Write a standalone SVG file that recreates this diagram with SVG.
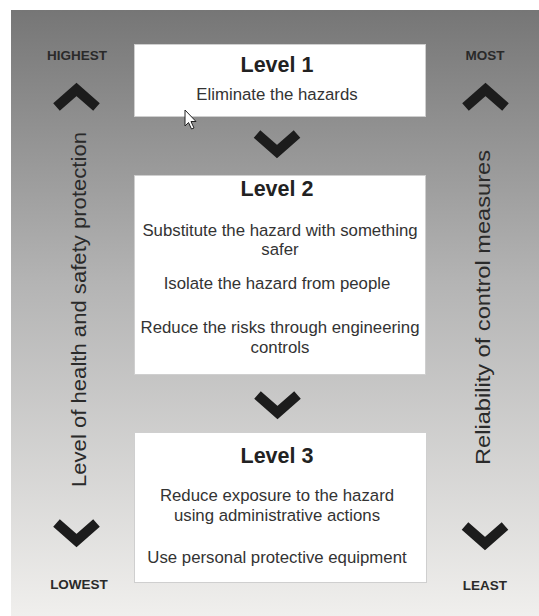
<svg xmlns="http://www.w3.org/2000/svg" width="539" height="616" viewBox="0 0 539 616">
  <defs>
    <linearGradient id="bg" x1="0" y1="0" x2="0" y2="1">
      <stop offset="0" stop-color="#767676"/>
      <stop offset="0.45" stop-color="#b4b4b4"/>
      <stop offset="1" stop-color="#f0efed"/>
    </linearGradient>
    <path id="chev" d="M -20 -9 L 0 8.5 L 20 -9"/>
  </defs>
  <style>
    .box { fill: #ffffff; stroke: #cfcfcf; stroke-width: 1; }
    .title { font-family: "Liberation Sans", Arial, sans-serif; font-weight: bold; font-size: 21.5px; fill: #222; text-anchor: middle; }
    .body { font-family: "Liberation Sans", Arial, sans-serif; font-size: 16.8px; fill: #333; text-anchor: middle; }
    .tag { font-family: "Liberation Sans", Arial, sans-serif; font-weight: bold; font-size: 13.5px; fill: #2a2a2a; text-anchor: middle; }
    .side { font-family: "Liberation Sans", Arial, sans-serif; font-size: 20.5px; fill: #2a2a2a; text-anchor: middle; }
    .chev { fill: none; stroke: #1c1c1c; stroke-width: 10; stroke-linejoin: miter; stroke-miterlimit: 10; }
  </style>

  <rect x="0" y="0" width="539" height="616" fill="#ffffff"/>
  <rect x="11" y="10" width="528" height="606" fill="url(#bg)"/>

  <g id="level1">
    <rect class="box" x="134.5" y="44.5" width="291" height="72"/>
    <text class="title" x="277" y="72">Level 1</text>
    <text class="body" x="277" y="100">Eliminate the hazards</text>
  </g>

  <g id="level2">
    <rect class="box" x="134.5" y="175.5" width="291" height="199"/>
    <text class="title" x="277" y="196">Level 2</text>
    <text class="body" x="280" y="236">Substitute the hazard with something</text>
    <text class="body" x="280" y="255">safer</text>
    <text class="body" x="277" y="289">Isolate the hazard from people</text>
    <text class="body" x="280" y="333">Reduce the risks through engineering</text>
    <text class="body" x="280" y="353">controls</text>
  </g>

  <g id="level3">
    <rect class="box" x="134.5" y="432.5" width="292" height="150"/>
    <text class="title" x="277" y="463">Level 3</text>
    <text class="body" x="277" y="501">Reduce exposure to the hazard</text>
    <text class="body" x="277" y="521">using administrative actions</text>
    <text class="body" x="277" y="563">Use personal protective equipment</text>
  </g>

  <g id="left-scale">
    <text class="tag" x="77" y="60">HIGHEST</text>
    <use href="#chev" class="chev" transform="translate(76.5,98) rotate(180)"/>
    <text class="side" transform="translate(86,309.5) rotate(-90)" textLength="355" lengthAdjust="spacingAndGlyphs">Level of health and safety protection</text>
    <use href="#chev" class="chev" transform="translate(76.5,532)"/>
    <text class="tag" x="79" y="589">LOWEST</text>
  </g>

  <g id="right-scale">
    <text class="tag" x="485" y="60">MOST</text>
    <use href="#chev" class="chev" transform="translate(485.5,98) rotate(180)"/>
    <text class="side" transform="translate(490,307.5) rotate(-90)" textLength="315" lengthAdjust="spacingAndGlyphs">Reliability of control measures</text>
    <use href="#chev" class="chev" transform="translate(485,535)"/>
    <text class="tag" x="485" y="590">LEAST</text>
  </g>

  <g id="connectors">
    <use href="#chev" class="chev" transform="translate(277,143)"/>
    <use href="#chev" class="chev" transform="translate(277.5,404)"/>
  </g>

  <path d="M 185 110 L 185 126 L 188.5 122.5 L 191.5 129 L 194 128 L 191 121.5 L 196 121.5 Z" fill="#ffffff" stroke="#222" stroke-width="1" stroke-linejoin="round"/>
</svg>
